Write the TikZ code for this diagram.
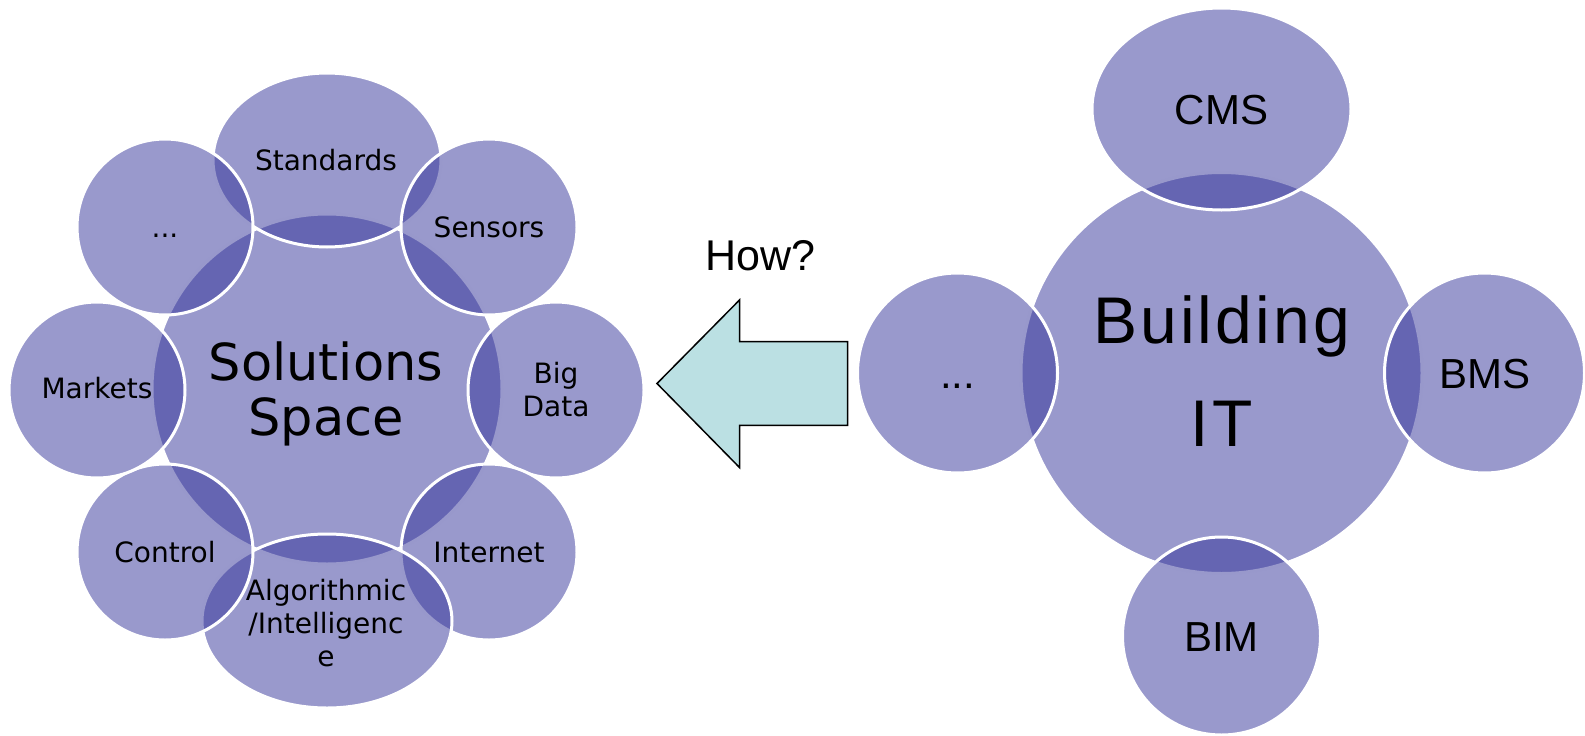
\documentclass[tikz,border=0pt]{standalone}
\usepackage{fontspec}
\setmainfont{DejaVu Sans}
\newfontfamily\labelfont{Liberation Sans}
\newfontfamily\hubfont{Liberation Sans}[LetterSpace=4.8]
\usetikzlibrary{shapes.geometric}
\definecolor{vennfill}{RGB}{51,51,153}
\definecolor{arrowfill}{RGB}{187,224,227}

\begin{document}
\begin{tikzpicture}[x=1pt,y=-1pt,
  venn/.style={ellipse, draw=white, line width=3pt, fill=vennfill,
    fill opacity=0.5, inner sep=0pt, outer sep=0pt},
  bubble/.style={venn, minimum width=#1*2pt, minimum height=#1*2pt},
  oval/.style 2 args={venn, minimum width=#1*2pt, minimum height=#2*2pt},
  % labels are placed by the baseline of their last line
  txt/.style={inner sep=0pt, anchor=base, align=center, text=black},
  smalltxt/.style={txt, font=\fontsize{28}{33}\selectfont},
  hubtxt/.style={txt, font=\fontsize{51}{55}\selectfont},
  rtxt/.style={txt, font=\labelfont\fontsize{42}{48}\selectfont},
  bigrtxt/.style={txt, font=\hubfont\fontsize{66}{103}\selectfont},
]
\useasboundingbox (0,0) rectangle (1585,736);

% ---- left cluster: solutions space and its satellites ----
\node[bubble=175] (ss) at (327,389) {};
\node[oval={114}{87}] (std) at (327,160) {};
\node[bubble=88] (sen) at (489,227) {};
\node[bubble=88] (big) at (556,390) {};
\node[bubble=88] (int) at (489,552) {};
\node[oval={125}{87}] (alg) at (327,621) {};
\node[bubble=88] (ctl) at (165,552) {};
\node[bubble=88] (mkt) at (97,390) {};
\node[bubble=88] (etc) at (165,227) {};

% ---- right cluster: building IT and its satellites ----
\node[bubble=200.5] (bit) at (1221.5,373) {};
\node[oval={129.5}{101}] (cms) at (1221.5,109) {};
\node[bubble=100] (bms) at (1484.5,373) {};
\node[bubble=99] (bim) at (1221.5,636) {};
\node[bubble=100] (retc) at (957.5,373) {};

% ---- block arrow pointing from building IT towards the solutions ----
\coordinate (tip) at (657,383.5);
\coordinate (headtop) at (739.5,300);
\coordinate (headbot) at (739.5,467.5);
\coordinate (shafttl) at (739.5,341.7);
\coordinate (shafttr) at (847.5,341.7);
\coordinate (shaftbr) at (847.5,425.3);
\coordinate (shaftbl) at (739.5,425.3);
\draw[fill=arrowfill, draw=black, line width=1.5pt, line join=miter]
  (tip) -- (headtop) -- (shafttl) -- (shafttr) -- (shaftbr)
  -- (shaftbl) -- (headbot) -- cycle;

% ---- labels ----
\node[hubtxt] (ss-t) at (326,435) {Solutions\\Space};
\node[smalltxt] (std-t) at (326,170) {Standards};
\node[smalltxt] (sen-t) at (489,237) {Sensors};
\node[smalltxt] (big-t) at (556,416) {Big\\Data};
\node[smalltxt] (int-t) at (489,562) {Internet};
\node[smalltxt] (alg-t) at (326,666) {Algorithmic\\/Intelligenc\\e};
\node[smalltxt] (ctl-t) at (165,562) {Control};
\node[smalltxt] (mkt-t) at (97,398) {Markets};
\node[smalltxt] (etc-t) at (165,237) {...};

\node[bigrtxt] (bit-t) at (1221.5,446) {Building\\IT};
\node[rtxt] (cms-t) at (1221.5,124) {CMS};
\node[rtxt] (bms-t) at (1484.5,388) {BMS};
\node[rtxt] (bim-t) at (1221.5,651) {BIM};
\node[rtxt] (retc-t) at (957.5,388) {...};

\node[txt, font=\labelfont\fontsize{43}{48}\selectfont] (how) at (760.5,270) {How?};
\end{tikzpicture}
\end{document}
